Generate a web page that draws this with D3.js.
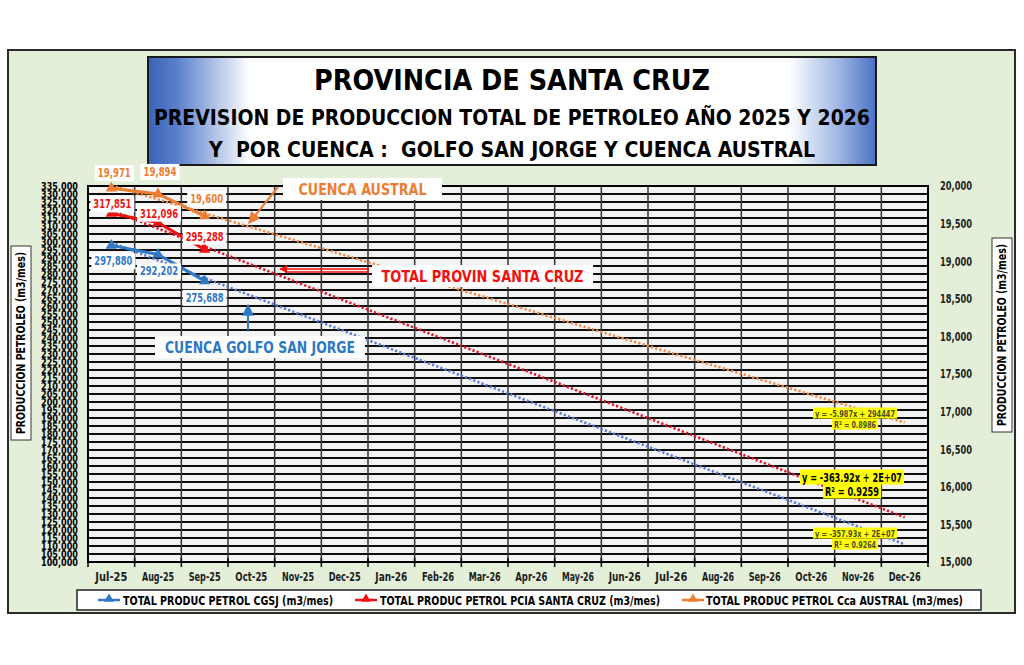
<!DOCTYPE html>
<html><head><meta charset="utf-8">
<script src="https://cdn.jsdelivr.net/npm/d3@7"></script>
<style>
html,body{margin:0;padding:0;background:#fff;}
svg{display:block;}
text{font-family:"Liberation Sans Narrow","DejaVu Sans Condensed","Arial Narrow",sans-serif;font-weight:bold;white-space:pre;}
</style></head>
<body>
<svg id="c" width="1024" height="665"></svg>
<script>
// ---------- DATA ----------
const months = ["Jul-25","Aug-25","Sep-25","Oct-25","Nov-25","Dec-25","Jan-26","Feb-26","Mar-26","Apr-26","May-26","Jun-26","Jul-26","Aug-26","Sep-26","Oct-26","Nov-26","Dec-26"];
const cgsj = [297880, 292202, 275688];        // left axis
const santaCruz = [317851, 312096, 295288];   // left axis
const austral = [19971, 19894, 19600];        // right axis
const leftTicks = d3.range(100000, 335001, 5000);
const rightTicks = d3.range(15000, 20001, 500);
const titleLines = ["PROVINCIA DE SANTA CRUZ","PREVISION DE PRODUCCION TOTAL DE PETROLEO AÑO 2025 Y 2026","Y  POR CUENCA :  GOLFO SAN JORGE Y CUENCA AUSTRAL"];
const legendNames = ["TOTAL PRODUC PETROL CGSJ (m3/mes)","TOTAL PRODUC PETROL PCIA SANTA CRUZ (m3/mes)","TOTAL PRODUC PETROL Cca AUSTRAL (m3/mes)"];
const eqAustral = ["y = -5.987x + 294447","R² = 0.8986"];
const eqSantaCruz = ["y = -363.92x + 2E+07","R² = 0.9259"];
const eqCgsj = ["y = -357.93x + 2E+07","R² = 0.9264"];
const axisTitle = "PRODUCCION PETROLEO (m3/mes)";

// ---------- LAYOUT ----------
const P = {l:88, r:928, t:186, b:562};
const colors = {blue:"#2f78c4", red:"#f01010", orange:"#ed7d31", trendBlue:"#5a78d6", trendRed:"#e0102a", trendOrange:"#ed8a45"};

const svg = d3.select("#c");
const defs = svg.append("defs");

const g1 = defs.append("linearGradient").attr("id","tg").attr("x1","0").attr("x2","1").attr("y1","0").attr("y2","0");
[[0,"#3b62b6"],[0.04,"#5a80cc"],[0.14,"#ffffff"],[0.88,"#ffffff"],[0.95,"#9db5e4"],[1,"#4a70c4"]].forEach(s=>g1.append("stop").attr("offset",s[0]).attr("stop-color",s[1]));

function marker(id,color){
  defs.append("marker").attr("id",id).attr("viewBox","0 0 10 10").attr("refX",9).attr("refY",5)
    .attr("markerWidth",6).attr("markerHeight",6).attr("orient","auto-start-reverse")
    .append("path").attr("d","M0,0L10,5L0,10z").attr("fill",color);
}
marker("aO",colors.orange); marker("aR",colors.red); marker("aB",colors.blue);

const fit = (sel, w) => sel.attr("textLength", w).attr("lengthAdjust","spacingAndGlyphs");

// outer frame
svg.append("rect").attr("x",8).attr("y",50).attr("width",1007).attr("height",563)
  .attr("fill","#e3efd9").attr("stroke","#2b2b2b").attr("stroke-width",2);

// title box
svg.append("rect").attr("x",148).attr("y",57).attr("width",728).attr("height",108)
  .attr("fill","url(#tg)").attr("stroke","#1a1a1a").attr("stroke-width",2);
const tl = [{y:90,size:28,w:396},{y:125,size:21,w:716},{y:157,size:21,w:606}];
titleLines.forEach((t,i)=>{
  fit(svg.append("text").attr("x",512).attr("y",tl[i].y).attr("text-anchor","middle")
    .attr("font-size",tl[i].size).attr("fill","#000").text(t), tl[i].w);
});

// scales
const x = d3.scaleBand().domain(months).range([P.l,P.r]).padding(0);
const yL = d3.scaleLinear().domain([100000,335000]).range([P.b,P.t]);
const yR = d3.scaleLinear().domain([15000,20000]).range([P.b,P.t]);
const cx = m => x(m) + x.bandwidth()/2;

// plot background
svg.append("rect").attr("x",P.l).attr("y",P.t).attr("width",P.r-P.l).attr("height",P.b-P.t).attr("fill","#f3f3f3");

svg.append("g").selectAll("line").data(leftTicks).join("line")
  .attr("x1",P.l).attr("x2",P.r).attr("y1",d=>yL(d)).attr("y2",d=>yL(d))
  .attr("stroke","#0d0d0d").attr("stroke-width",2);
svg.append("g").selectAll("line").data(months.slice(1)).join("line")
  .attr("x1",d=>x(d)).attr("x2",d=>x(d)).attr("y1",P.t).attr("y2",P.b)
  .attr("stroke","#333").attr("stroke-width",1.5);
svg.append("rect").attr("x",P.l).attr("y",P.t).attr("width",P.r-P.l).attr("height",P.b-P.t)
  .attr("fill","none").attr("stroke","#000").attr("stroke-width",2);
svg.append("g").selectAll("line").data(months.concat(["end"])).join("line")
  .attr("x1",(d,i)=>i<months.length?x(d):P.r).attr("x2",(d,i)=>i<months.length?x(d):P.r)
  .attr("y1",P.b-4).attr("y2",P.b+5).attr("stroke","#000").attr("stroke-width",1.5);

// axes
const axL = svg.append("g").attr("transform",`translate(${P.l},0)`)
  .call(d3.axisLeft(yL).tickValues(leftTicks).tickFormat(d3.format(",")).tickSize(0).tickPadding(10));
axL.select(".domain").remove();
fit(axL.selectAll("text").attr("font-size",11).attr("fill","#000").attr("font-family",null), 37);

const axR = svg.append("g").attr("transform",`translate(${P.r},0)`)
  .call(d3.axisRight(yR).tickValues(rightTicks).tickFormat(d3.format(",")).tickSize(0).tickPadding(12));
axR.select(".domain").remove();
fit(axR.selectAll("text").attr("font-size",12).attr("fill","#1c1c1c").attr("font-family",null), 32);

const axB = svg.append("g").attr("transform",`translate(0,${P.b})`)
  .call(d3.axisBottom(x).tickSize(0).tickPadding(10));
axB.select(".domain").remove();
fit(axB.selectAll("text").attr("font-size",12).attr("fill","#1c1c1c").attr("font-family",null), 32);

// axis titles
function axisTitleBox(cxp, cyp, w, h){
  svg.append("rect").attr("x",cxp-w/2).attr("y",cyp-h/2).attr("width",w).attr("height",h)
    .attr("fill","#fff").attr("stroke","#333").attr("stroke-width",1);
  fit(svg.append("text").attr("transform",`translate(${cxp+4},${cyp}) rotate(-90)`).attr("text-anchor","middle")
    .attr("font-size",11.5).attr("fill","#000").text(axisTitle), h-12);
}
axisTitleBox(21, 343, 20, 194);
axisTitleBox(1002, 335, 20, 194);

// trendlines (least squares on month index, extended over all months)
function lsq(vals){
  const n = vals.length, xs = d3.range(n);
  const mx = d3.mean(xs), my = d3.mean(vals);
  const b = d3.sum(xs,(xi,i)=>(xi-mx)*(vals[i]-my)) / d3.sum(xs,xi=>(xi-mx)*(xi-mx));
  return i => my + b*(i-mx);
}
[
  {vals:cgsj, s:yL, c:colors.trendBlue},
  {vals:santaCruz, s:yL, c:colors.trendRed},
  {vals:austral, s:yR, c:colors.trendOrange}
].forEach(t=>{
  const f = lsq(t.vals);
  svg.append("path").datum(months)
    .attr("d", d3.line().x(m=>cx(m)).y((m,i)=>t.s(f(i))))
    .attr("fill","none").attr("stroke",t.c).attr("stroke-width",2.6)
    .attr("stroke-dasharray","2.2,2.2");
});

// series
const tri = d3.symbol().type(d3.symbolTriangle).size(55);
[
  {vals:cgsj, s:yL, c:colors.blue},
  {vals:santaCruz, s:yL, c:colors.red},
  {vals:austral, s:yR, c:colors.orange}
].forEach(se=>{
  const pts = se.vals.map((v,i)=>[cx(months[i]), se.s(v)]);
  svg.append("path").datum(pts).attr("d",d3.line()).attr("fill","none").attr("stroke",se.c).attr("stroke-width",3);
  svg.append("g").selectAll("path").data(pts).join("path")
    .attr("transform",d=>`translate(${d[0]},${d[1]})`).attr("d",tri).attr("fill",se.c);
});

// data labels
const labelOffsets = {
  blue:[[2,16],[1,17],[0,17]],
  red:[[1,-9],[1,-9],[0,-13]],
  orange:[[3,-15],[2,-22],[2,-17]]
};
const fmt = d3.format(",");
function dataLabels(vals, s, color, offs){
  vals.forEach((v,i)=>{
    const px = cx(months[i]) + offs[i][0], py = s(v) + offs[i][1];
    const g = svg.append("g");
    const t = fit(g.append("text").attr("x",px).attr("y",py).attr("text-anchor","middle").attr("dominant-baseline","central")
      .attr("font-size",11.5).attr("fill",color).text(fmt(v)), vals[i] > 100000 ? 38 : 33);
    const bb = t.node().getBBox();
    g.insert("rect","text").attr("x",bb.x-3).attr("y",bb.y-1).attr("width",bb.width+6).attr("height",bb.height+2).attr("fill","#fff");
  });
}
dataLabels(cgsj, yL, colors.blue, labelOffsets.blue);
dataLabels(santaCruz, yL, colors.red, labelOffsets.red);
dataLabels(austral, yR, colors.orange, labelOffsets.orange);

// annotations
function annot(txt, x0, y0, w, h, color, tw){
  svg.append("rect").attr("x",x0).attr("y",y0).attr("width",w).attr("height",h).attr("fill","#fff");
  fit(svg.append("text").attr("x",x0+w/2).attr("y",y0+h/2).attr("text-anchor","middle").attr("dominant-baseline","central")
    .attr("font-size",16).attr("fill",color).text(txt), tw);
}
annot("CUENCA AUSTRAL", 283, 178, 159, 22, colors.orange, 128);
annot("TOTAL PROVIN SANTA CRUZ", 372, 265, 221, 22, colors.red, 202);
annot("CUENCA GOLFO SAN JORGE", 155, 336, 210, 22, colors.blue, 190);
svg.append("line").attr("x1",278).attr("y1",187).attr("x2",249).attr("y2",223).attr("stroke",colors.orange).attr("stroke-width",2).attr("marker-end","url(#aO)");
svg.append("line").attr("x1",369).attr("y1",269).attr("x2",280).attr("y2",269).attr("stroke",colors.red).attr("stroke-width",1.3).attr("marker-end","url(#aR)");
svg.append("line").attr("x1",369).attr("y1",272).attr("x2",285).attr("y2",272).attr("stroke",colors.red).attr("stroke-width",1.3);
svg.append("line").attr("x1",248).attr("y1",330).attr("x2",248).attr("y2",305).attr("stroke",colors.blue).attr("stroke-width",2).attr("marker-end","url(#aB)");

// trendline equations
function eqBox(lines, cxp, y1, size, color, gap, widths){
  lines.forEach((t,i)=>{
    const g = svg.append("g");
    const tx = fit(g.append("text").attr("x",cxp).attr("y",y1+i*gap).attr("text-anchor","middle").attr("dominant-baseline","central")
      .attr("font-size",size).attr("fill",color).attr("font-weight",size>10?"bold":"normal").text(t), widths[i]);
    const bb = tx.node().getBBox();
    g.insert("rect","text").attr("x",bb.x-2).attr("y",bb.y).attr("width",bb.width+4).attr("height",bb.height).attr("fill","#ffff00");
  });
}
eqBox(eqAustral, 855, 413, 9.5, "#4a4a2a", 11, [80,42]);
eqBox(eqSantaCruz, 852, 477, 12.5, "#000", 14, [100,54]);
eqBox(eqCgsj, 855, 533, 9.5, "#4a4a2a", 11, [80,42]);

// legend
svg.append("rect").attr("x",77).attr("y",590).attr("width",904).attr("height",20).attr("fill","#fff").attr("stroke","#222").attr("stroke-width",1.5);
const legItems = [
  {name:legendNames[0], c:colors.blue, lx:98, tx:123, tw:210},
  {name:legendNames[1], c:colors.red, lx:355, tx:380, tw:280},
  {name:legendNames[2], c:colors.orange, lx:682, tx:706, tw:257}
];
const legTri = d3.symbol().type(d3.symbolTriangle).size(40);
legItems.forEach(it=>{
  svg.append("line").attr("x1",it.lx).attr("x2",it.lx+22).attr("y1",600).attr("y2",600).attr("stroke",it.c).attr("stroke-width",2.5);
  svg.append("path").attr("transform",`translate(${it.lx+11},599)`).attr("d",legTri).attr("fill",it.c);
  fit(svg.append("text").attr("x",it.tx).attr("y",600).attr("dominant-baseline","central").attr("font-size",13)
    .attr("fill","#000").text(it.name), it.tw);
});
</script>
</body></html>
